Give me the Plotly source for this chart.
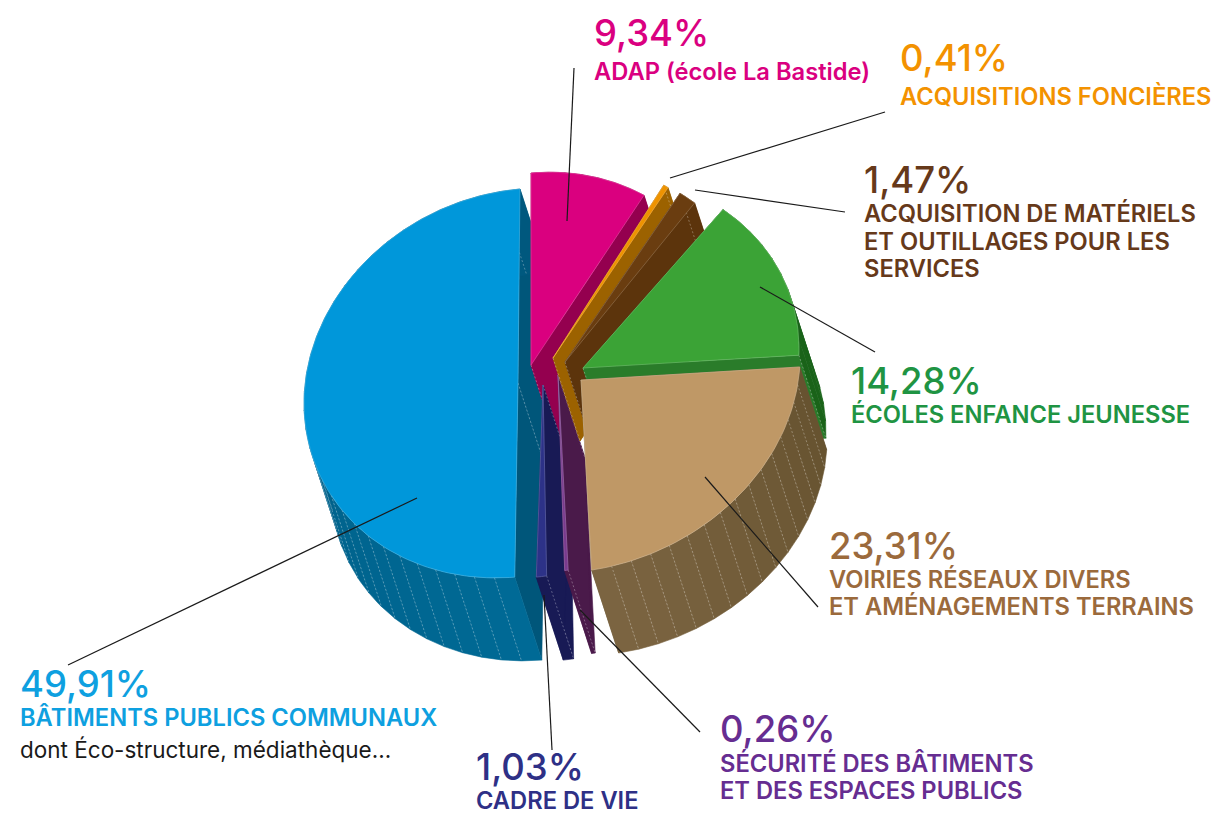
import math
import plotly.graph_objects as go

# ---- data (clockwise from 12 o'clock) ----
names = ["adap", "foncier", "materiel", "ecoles", "voirie", "securite", "cadre", "batiments"]
values = [9.34, 0.41, 1.47, 14.28, 23.31, 0.26, 1.03, 49.91]
label_lines = [
    ["ADAP (école La Bastide)"],
    ["ACQUISITIONS FONCIÈRES"],
    ["ACQUISITION DE MATÉRIELS", "ET OUTILLAGES POUR LES", "SERVICES"],
    ["ÉCOLES ENFANCE JEUNESSE"],
    ["VOIRIES RÉSEAUX DIVERS", "ET AMÉNAGEMENTS TERRAINS"],
    ["SÉCURITÉ DES BÂTIMENTS", "ET DES ESPACES PUBLICS"],
    ["CADRE DE VIE"],
    ["BÂTIMENTS PUBLICS COMMUNAUX"],
]
note_text = "dont Éco-structure, médiathèque..."

# ---- styling ----
top_colors = ["#da007f", "#ee9300", "#6a3d10", "#3ba336", "#bf9866", "#7a3a8e", "#2d3288", "#0097da"]
face_colors = ["#94004f", "#9c6200", "#5c340c", "#2a7c2a", "#6e5a3a", "#4a1a4a", "#181a55", "#00567a"]
rim_a = ["#94004f", "#9c6200", "#5c340c", "#1a6319", "#66522f", "#4a1a4a", "#181a55", "#006a96"]
rim_b = ["#94004f", "#9c6200", "#5c340c", "#1a6319", "#7c6542", "#4a1a4a", "#181a55", "#00587e"]
text_colors = ["#da0080", "#f39200", "#66391a", "#1f9443", "#9b6a3c", "#662d91", "#2e3086", "#0ea0e0"]

apex_x = [531, 553, 565, 583, 581, 558, 543, 518]
apex_y = [365, 358, 362, 368, 380, 375, 385, 383]
rad_x = [204, 200, 200, 216, 219, 214, 160, 214]
rad_y = [192, 196, 194, 192, 192, 197, 192, 194]
skew_x = [0.0, 0.0, 0.0, 0.0, 0.03, 0.03, 0.03, 0.01]
dashed_rim = [False, False, False, False, True, False, False, True]
SKEW_Y = 0.087
DEPTH_X, DEPTH_Y = 27, 83

draw_order = [7, 0, 6, 5, 1, 2, 3, 4]

pct_x = [592, 898, 862, 849, 827, 718, 474, 18]
pct_y = [33, 58, 180, 381, 546, 729, 767, 684]
line_y = [[71], [96], [213, 241, 268], [414], [579, 606], [763, 790], [800], [717]]
note_pos = (18, 749)

leaders = [
    ((574, 68), (567, 221)),
    ((885, 112), (670, 178)),
    ((845, 212), (695, 190)),
    ((875, 352), (760, 287)),
    ((818, 607), (705, 477)),
    ((700, 732), (580, 610)),
    ((552, 750), (544, 595)),
    ((68, 665), (417, 498)),
]

FONT = "Inter, Lato, sans-serif"


def mix(c1, c2, t):
    a = [int(c1[i:i + 2], 16) for i in (1, 3, 5)]
    b = [int(c2[i:i + 2], 16) for i in (1, 3, 5)]
    return "rgb(%d,%d,%d)" % tuple(round(p + (q - p) * t) for p, q in zip(a, b))


def rim_point(i, deg):
    r = math.radians(deg)
    sx = rad_x[i] * math.sin(r)
    cy = rad_y[i] * math.cos(r)
    return apex_x[i] + sx + skew_x[i] * cy, apex_y[i] - cy - SKEW_Y * sx


def poly(fig, pts, color, lw=0.6, line_color=None):
    xs = [p[0] for p in pts] + [pts[0][0]]
    ys = [p[1] for p in pts] + [pts[0][1]]
    fig.add_trace(go.Scatter(x=xs, y=ys, mode="lines", fill="toself", fillcolor=color,
                             line=dict(color=line_color or color, width=lw), hoverinfo="skip"))


def down(p):
    return p[0] + DEPTH_X, p[1] + DEPTH_Y


total = sum(values)
start = []
acc = 0.0
for v in values:
    start.append(acc)
    acc += v / total * 360

fig = go.Figure()

for i in draw_order:
    a0 = start[i]
    a1 = a0 + values[i] / total * 360
    apex = (apex_x[i], apex_y[i])
    p0, p1 = rim_point(i, a0), rim_point(i, a1)
    # radial walls
    for p in (p0, p1):
        poly(fig, [apex, p, down(p), down(apex)], face_colors[i])
    # outer wall, cut into facets
    STEP = 5.5
    n = max(1, math.ceil((a1 - a0) / STEP))
    dash_x, dash_y = [], []
    for k in range(n):
        b0 = a0 + (a1 - a0) * k / n
        b1 = a0 + (a1 - a0) * (k + 1) / n
        arc = [rim_point(i, b0 + (b1 - b0) * j / 4) for j in range(5)]
        t = (k + 0.5) / n
        poly(fig, arc + [down(q) for q in reversed(arc)], mix(rim_a[i], rim_b[i], t))
        if k and dashed_rim[i]:
            q = arc[0]
            r = down(q)
            dash_x += [q[0], r[0], None]
            dash_y += [q[1], r[1], None]
    if not dashed_rim[i]:
        # other slices only show a seam along the rim corner
        q = p1 if i == 3 else p0
        dash_x += [q[0], down(q)[0], None]
        dash_y += [q[1], down(q)[1], None]
    dash_x += [apex[0], down(apex)[0], None]
    dash_y += [apex[1], down(apex)[1], None]
    fig.add_trace(go.Scatter(x=dash_x, y=dash_y, mode="lines",
                             line=dict(color="rgba(255,255,255,0.38)", width=0.8, dash="2px,2px"),
                             hoverinfo="skip"))
    # top face
    m = max(2, int((a1 - a0) / 1.5))
    pts = [apex] + [rim_point(i, a0 + (a1 - a0) * j / m) for j in range(m + 1)]
    poly(fig, pts, top_colors[i], lw=0.7, line_color=mix(top_colors[i], "#ffffff", 0.25))

# leader lines
for (p, q) in leaders:
    fig.add_trace(go.Scatter(x=[p[0], q[0]], y=[p[1], q[1]], mode="lines",
                             line=dict(color="#1a1a1a", width=1.2), hoverinfo="skip"))

# text
ann = []
for i in range(len(values)):
    pct = f"{values[i]:.2f}".replace(".", ",") + "%"
    ann.append(dict(x=pct_x[i], y=pct_y[i], text=pct, showarrow=False, xanchor="left", yanchor="middle",
                    font=dict(family=FONT, size=36.5, color=text_colors[i], weight=500)))
    for txt, y in zip(label_lines[i], line_y[i]):
        ann.append(dict(x=pct_x[i], y=y, text=txt, showarrow=False, xanchor="left", yanchor="middle",
                        font=dict(family=FONT, size=23.7, color=text_colors[i], weight=600)))
ann.append(dict(x=note_pos[0], y=note_pos[1], text=note_text, showarrow=False, xanchor="left", yanchor="middle",
                font=dict(family=FONT, size=22.5, color="#1a1a1a", weight=400)))

fig.update_layout(
    width=1227, height=814, margin=dict(l=0, r=0, t=0, b=0),
    paper_bgcolor="white", plot_bgcolor="white", showlegend=False, annotations=ann,
    xaxis=dict(range=[0, 1227], visible=False, fixedrange=True),
    yaxis=dict(range=[814, 0], visible=False, fixedrange=True),
    hovermode=False,
)
fig.write_html("out.html", config={"displayModeBar": False},
               post_script="document.body.style.margin='0';document.body.style.overflow='hidden';")
